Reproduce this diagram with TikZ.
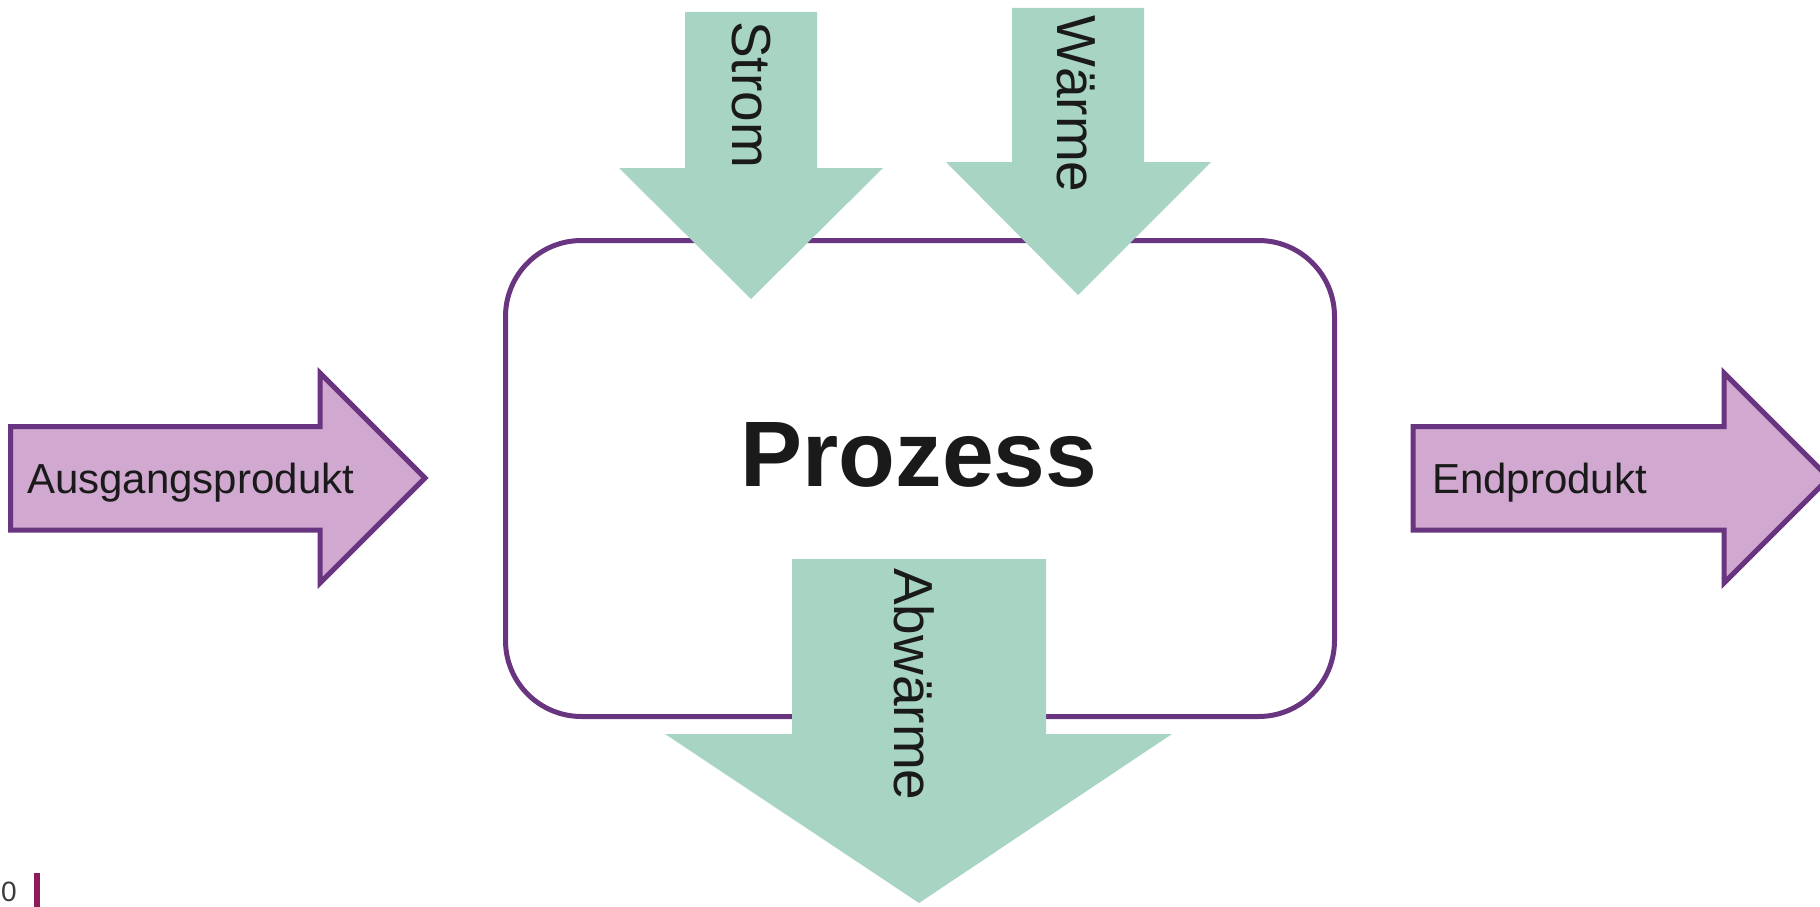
\documentclass[tikz,border=0pt]{standalone}
\usepackage{fontspec}
\setmainfont{Liberation Sans}
\definecolor{flowgreen}{RGB}{168,213,195}
\definecolor{prodfill}{RGB}{208,168,208}
\definecolor{prodline}{RGB}{106,53,128}
\definecolor{txtcol}{RGB}{26,26,26}
\definecolor{barcol}{RGB}{142,27,94}
\tikzset{
  procbox/.style={draw=prodline, line width=5pt, rounded corners=76pt, fill=white, minimum width=829pt, minimum height=476pt, inner sep=0pt},
  greenarrow/.style={fill=flowgreen, draw=none},
  prodarrow/.style={fill=prodfill, draw=prodline, line width=5pt, line join=miter},
  htext/.style={inner sep=0pt, anchor=base west, text=txtcol, font=\fontsize{42}{50}\selectfont},
  vtext/.style={inner sep=0pt, anchor=base west, rotate=-90, text=txtcol, font=\fontsize{55}{66}\selectfont},
  titletext/.style={inner sep=0pt, anchor=base, text=txtcol, font=\fontsize{93}{110}\selectfont\bfseries}
}
\begin{document}
\begin{tikzpicture}[x=1pt,y=-1pt]
\useasboundingbox (0,0) rectangle (1820,907);
\clip (0,0) rectangle (1820,907);
% process box
\node[procbox] (proc) at (920,478.5) {};
\node[titletext] (title) at (919,486) {Prozess};
% input arrows (green)
\draw[greenarrow] (685,12) -- (817,12) -- (817,168) -- (883,168) -- (751,299) -- (619,168) -- (685,168) -- cycle;
\draw[greenarrow] (1012,8) -- (1144,8) -- (1144,162) -- (1211,162) -- (1078,295) -- (946,162) -- (1012,162) -- cycle;
\draw[greenarrow] (792,559) -- (1046,559) -- (1046,734) -- (1172,734) -- (919,903) -- (665,734) -- (792,734) -- cycle;
\node[vtext] (strom) at (732,21) {Strom};
\node[vtext] (waerme) at (1057,15) {Wärme};
\node[vtext] (abwaerme) at (894,568) {Abwärme};
% product arrows (purple)
\draw[prodarrow] (10.5,426.5) -- (320,426.5) -- (320,373) -- (425,478) -- (320,583) -- (320,530) -- (10.5,530) -- cycle;
\draw[prodarrow] (1413,426.5) -- (1724,426.5) -- (1724,373) -- (1829,478) -- (1724,583) -- (1724,530) -- (1413,530) -- cycle;
\node[htext] (in) at (27,493) {Ausgangsprodukt};
\node[htext] (out) at (1432,493) {Endprodukt};
% footer
\node[inner sep=0pt, anchor=base west, text=txtcol!85, font=\fontsize{28}{33}\selectfont] (pagenum) at (1,901) {0};
\fill[barcol] (34,873) rectangle (40,907);
\end{tikzpicture}
\end{document}
